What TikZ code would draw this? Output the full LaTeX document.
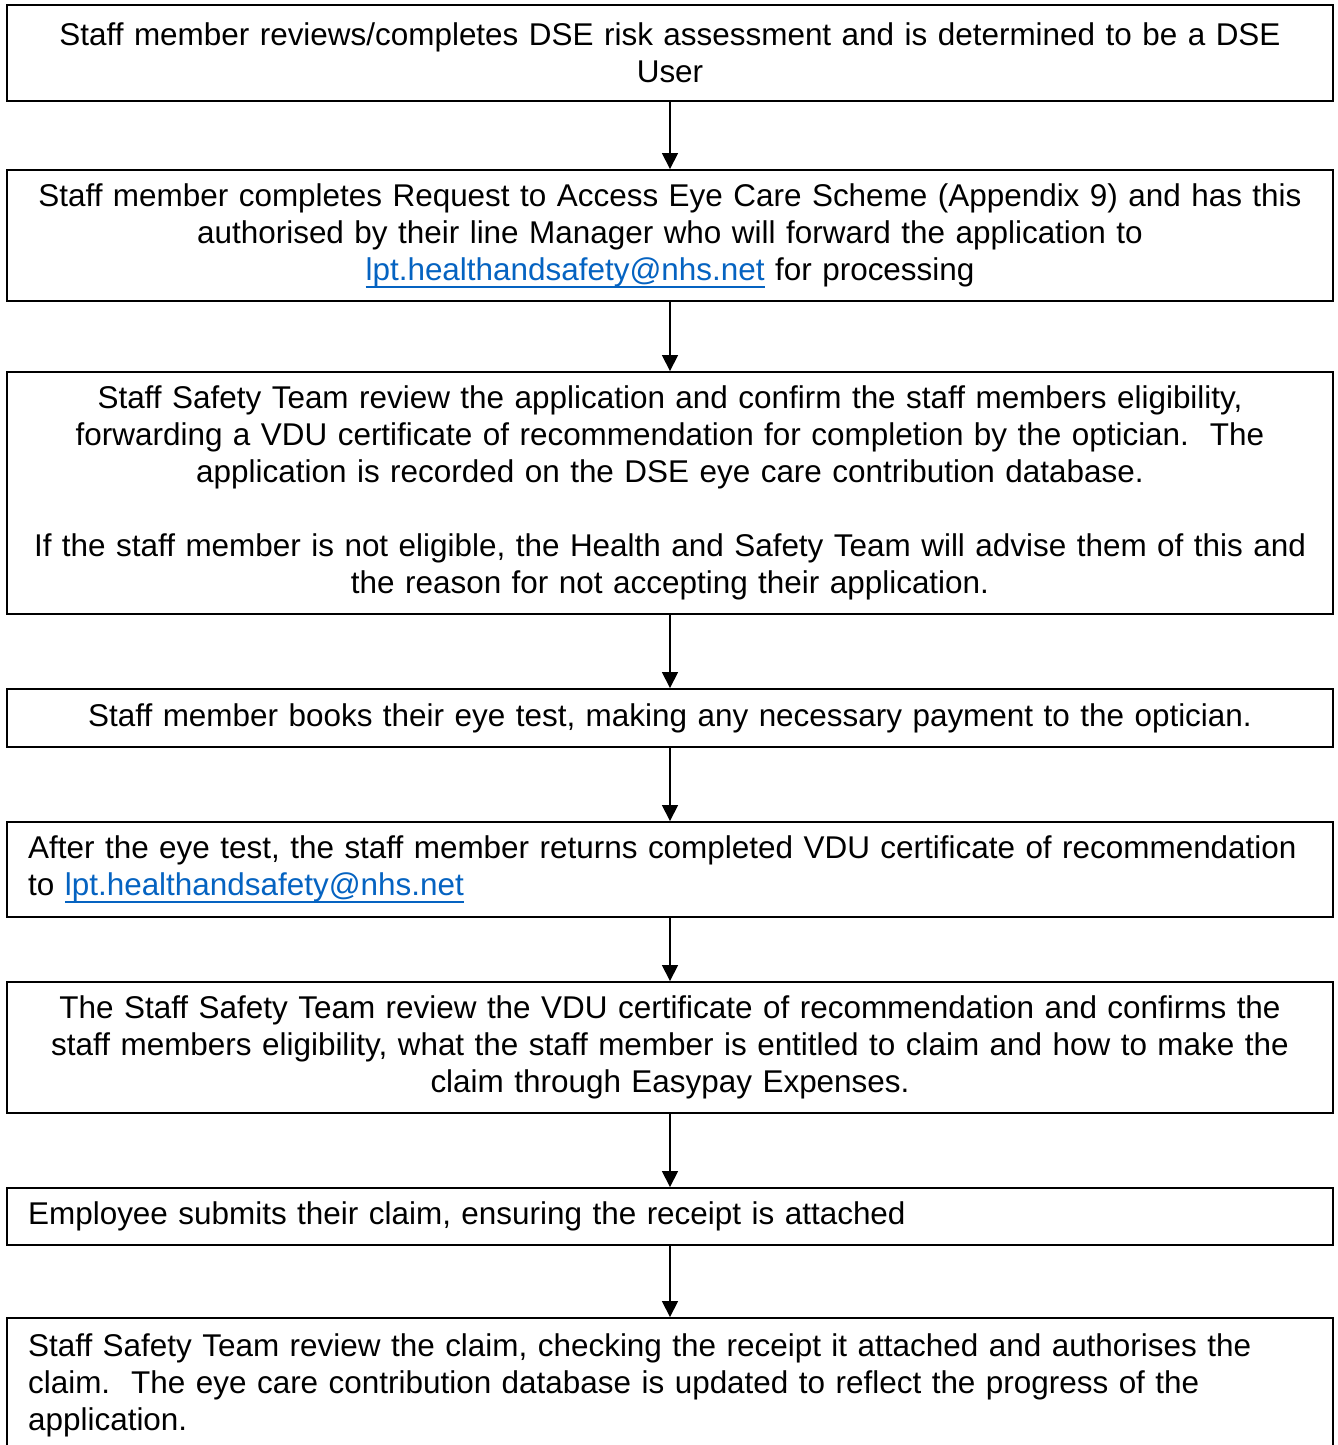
\documentclass[tikz,border=0pt]{standalone}
\usepackage{fontspec}
\setmainfont{Liberation Sans}
\usepackage{xcolor}
\usepackage{tikz}
\usetikzlibrary{arrows.meta,positioning}
\definecolor{linkblue}{HTML}{0563C1}
\newcommand{\emaillink}{\textcolor{linkblue}{\setbox0\hbox{lpt.healthandsafety@nhs.net}\rlap{\copy0}\raisebox{-4.3pt}{\rule{\wd0}{1.1pt}}}}
\tikzset{
  box/.style={draw, line width=1.1pt, rectangle, text width=25.68cm, inner xsep=0.42cm, inner ysep=0pt,
    font=\fontsize{17.9pt}{21pt}\selectfont},
  arr/.style={-{Triangle[length=0.32cm,width=0.32cm]}, line width=0.9pt}
}

\begin{document}
\begin{tikzpicture}[x=0.02cm, y=-0.02cm]
            \useasboundingbox (0,0) rectangle (1338,1445);
            \node [box, align=center, minimum height=1.92cm] (s1) at (670,53) {Staff member reviews/completes DSE risk assessment and is determined to be a DSE\\ User};
            \node [box, align=center, minimum height=2.62cm] (s2) at (670,235.5) {Staff member completes Request to Access Eye Care Scheme (Appendix 9) and has this\\ authorised by their line Manager who will forward the application to\\ \emaillink{} for processing};
            \node [box, align=center, minimum height=4.84cm] (s3) at (670,493) {Staff Safety Team review the application and confirm the staff members eligibility,\\ forwarding a VDU certificate of recommendation for completion by the optician.\ \ The\\ application is recorded on the DSE eye care contribution database.\\[0.74cm] If the staff member is not eligible, the Health and Safety Team will advise them of this and\\ the reason for not accepting their application.};
            \node [box, align=center, minimum height=1.16cm] (s4) at (670,718) {Staff member books their eye test, making any necessary payment to the optician.};
            \node [box, align=left, minimum height=1.9cm] (s5) at (670,869.5) {After the eye test, the staff member returns completed VDU certificate of recommendation\\ to \emaillink};
            \node [box, align=center, minimum height=2.62cm] (s6) at (670,1047.5) {The Staff Safety Team review the VDU certificate of recommendation and confirms the\\ staff members eligibility, what the staff member is entitled to claim and how to make the\\ claim through Easypay Expenses.};
            \node [box, align=left, minimum height=1.14cm] (s7) at (670,1216.5) {Employee submits their claim, ensuring the receipt is attached};
            \node [box, align=left, minimum height=2.68cm] (s8) at (670,1385) {Staff Safety Team review the claim, checking the receipt it attached and authorises the\\ claim.\ \ The eye care contribution database is updated to reflect the progress of the\\ application.};
            \draw [arr] (s1) -- (s2);
            \draw [arr] (s2) -- (s3);
            \draw [arr] (s3) -- (s4);
            \draw [arr] (s4) -- (s5);
            \draw [arr] (s5) -- (s6);
            \draw [arr] (s6) -- (s7);
            \draw [arr] (s7) -- (s8);
\end{tikzpicture}
\end{document}
